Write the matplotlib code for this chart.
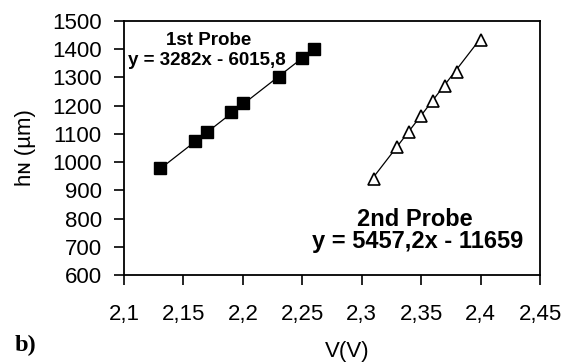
import matplotlib
matplotlib.use("Agg")
import matplotlib.pyplot as plt
import numpy as np

plt.rcParams['font.family'] = ['Liberation Sans', 'DejaVu Sans']

# Measured probe heights vs. voltage
probe1_v = [2.13, 2.16, 2.17, 2.19, 2.20, 2.23, 2.25, 2.26]
probe1_h = [980, 1075, 1106, 1177, 1208, 1303, 1370, 1402]
probe2_v = [2.31, 2.33, 2.34, 2.35, 2.36, 2.37, 2.38, 2.40]
probe2_h = [941, 1053, 1106, 1162, 1215, 1271, 1321, 1433]

# Linear fits (slope, intercept)
fit1 = (3282.0, -6015.8)
fit2 = (5457.2, -11659.0)

x_ticks = [2.1, 2.15, 2.2, 2.25, 2.3, 2.35, 2.4, 2.45]
x_tick_labels = ["2,1", "2,15", "2,2", "2,25", "2,3", "2,35", "2,4", "2,45"]
y_ticks = [600, 700, 800, 900, 1000, 1100, 1200, 1300, 1400, 1500]

W, H = 561, 362
fig = plt.figure(figsize=(W / 100, H / 100), dpi=100)
ax = fig.add_axes([124 / W, 1 - 275 / H, (540 - 124) / W, (275 - 21) / H])

for v, (a, b) in ((probe1_v, fit1), (probe2_v, fit2)):
    xs = np.array([min(v), max(v)])
    ax.plot(xs, a * xs + b, color="black", lw=0.9, zorder=2)

ax.plot(probe1_v, probe1_h, linestyle="none", marker="s", markersize=8.3,
        color="black", zorder=3)
ax.plot(probe2_v, probe2_h, linestyle="none", marker="^", markersize=9,
        markerfacecolor="white", markeredgecolor="black", markeredgewidth=1.2,
        zorder=3)

ax.set_xlim(2.1, 2.45)
ax.set_ylim(600, 1500)
ax.set_xticks(x_ticks)
ax.set_xticklabels(x_tick_labels)
ax.set_yticks(y_ticks)
ax.tick_params(axis="both", direction="out", length=7, width=1.2,
               labelsize=16, colors="black")
ax.tick_params(axis="x", pad=14)
ax.tick_params(axis="y", pad=9)
ax.tick_params(top=False, right=False)
for s in ax.spines.values():
    s.set_linewidth(1.3)

ax.set_xlabel("V(V)", fontsize=16)
ax.set_ylabel("h\u0274 (\u00b5m)", fontsize=16)
# label centres: x-label at y=351 px, y-label at x=25 px
ax.xaxis.set_label_coords((347 - 124) / (540 - 124), -(351 - 275) / (275 - 21))
ax.xaxis.label.set_va("center")
ax.yaxis.set_label_coords(-(124 - 25) / (540 - 124), 0.5)
ax.yaxis.label.set_va("center")

ax.text(2.1711, 1415, "1st Probe", fontsize=13.5, fontweight="bold",
        ha="center", va="baseline")
ax.text(2.1034, 1344, "y = 3282x - 6015,8", fontsize=13.5, fontweight="bold",
        ha="left", va="baseline")
ax.text(2.345, 774, "2nd Probe", fontsize=17, fontweight="bold",
        ha="center", va="baseline")
ax.text(2.3474, 696, "y = 5457,2x - 11659", fontsize=17, fontweight="bold",
        ha="center", va="baseline")

fig.text(15 / W, 1 - 345 / H, "b)", fontsize=17.5, fontweight="bold",
         family="Liberation Serif", ha="left", va="center")

fig.savefig("out.png", dpi=100)
